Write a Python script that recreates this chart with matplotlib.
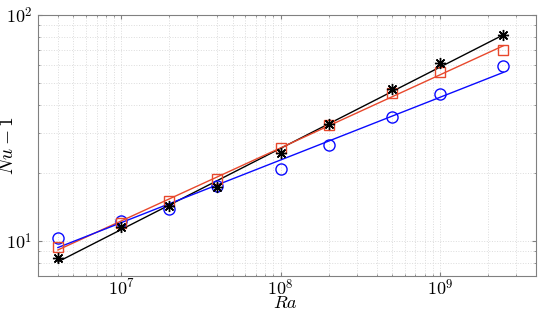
import numpy as np
import matplotlib
matplotlib.use('Agg')
import matplotlib.pyplot as plt
from matplotlib.ticker import FuncFormatter

plt.rcParams['mathtext.fontset'] = 'cm'
plt.rcParams['font.family'] = 'serif'
plt.rcParams['font.serif'] = ['DejaVu Serif']

ra = np.array([4e6, 1e7, 2e7, 4e7, 1e8, 2e8, 5e8, 1e9, 2.5e9])
nu_blue = np.array([10.3, 12.2, 13.8, 17.6, 20.8, 26.6, 35.5, 44.6, 59.4])
nu_red = np.array([9.38, 12.05, 15.07, 18.8, 25.8, 32.6, 45.1, 56.1, 70.0])
nu_black = np.array([8.44, 11.5, 14.3, 17.3, 24.5, 33.0, 46.9, 61.1, 81.5])

red = '#e8482c'
blue = '#0a0aff'

def fit_line(x, y):
    p = np.polyfit(np.log10(x), np.log10(y), 1)
    return 10 ** np.polyval(p, np.log10(x))

def log_fmt(v, pos):
    e = np.log10(v)
    if abs(e - round(e)) > 1e-6:
        return ''
    return r'$10^{%d}$' % round(e)

fig = plt.figure(figsize=(5.38, 3.12), dpi=100)
ax = fig.add_axes([38/538, 1 - 276/312, 498/538, 261/312])

ax.plot(ra, fit_line(ra, nu_black), '-', color='k', lw=1.0)
ax.plot(ra, fit_line(ra, nu_red), '-', color=red, lw=1.0)
ax.plot(ra, fit_line(ra, nu_blue), '-', color=blue, lw=1.0)

ax.plot(ra, nu_blue, 'o', mfc='none', mec=blue, ms=8, mew=1.0)
ax.plot(ra, nu_red, 's', mfc='none', mec=red, ms=6.5, mew=1.0)
ax.plot(ra, nu_black, ls='none', color='k', ms=8, mew=1.0, marker=(8, 2, 0))

ax.set_xscale('log')
ax.set_yscale('log')
ax.set_xlim(3e6, 4e9)
ax.set_ylim(7, 100)
ax.xaxis.set_major_formatter(FuncFormatter(log_fmt))
ax.yaxis.set_major_formatter(FuncFormatter(log_fmt))
ax.xaxis.set_minor_formatter(FuncFormatter(lambda v, p: ''))
ax.yaxis.set_minor_formatter(FuncFormatter(lambda v, p: ''))

ax.grid(True, which='both', ls=':', color='#dcdcdc', lw=0.7)
ax.tick_params(which='both', direction='in', top=True, right=True, labelsize=13, colors='#808080', labelcolor='k')
ax.tick_params(which='major', length=3, pad=4)
ax.tick_params(axis='x', which='major', pad=2)
ax.tick_params(which='minor', length=1.5)
for s in ax.spines.values():
    s.set_color('#808080')

ax.set_xlabel('$Ra$', fontsize=13)
ax.xaxis.set_label_coords(0.496, -0.07)
ax.set_ylabel('$Nu-1$', fontsize=14)
ax.yaxis.set_label_coords(-0.043, 0.5)

fig.savefig('out.png', dpi=100)
